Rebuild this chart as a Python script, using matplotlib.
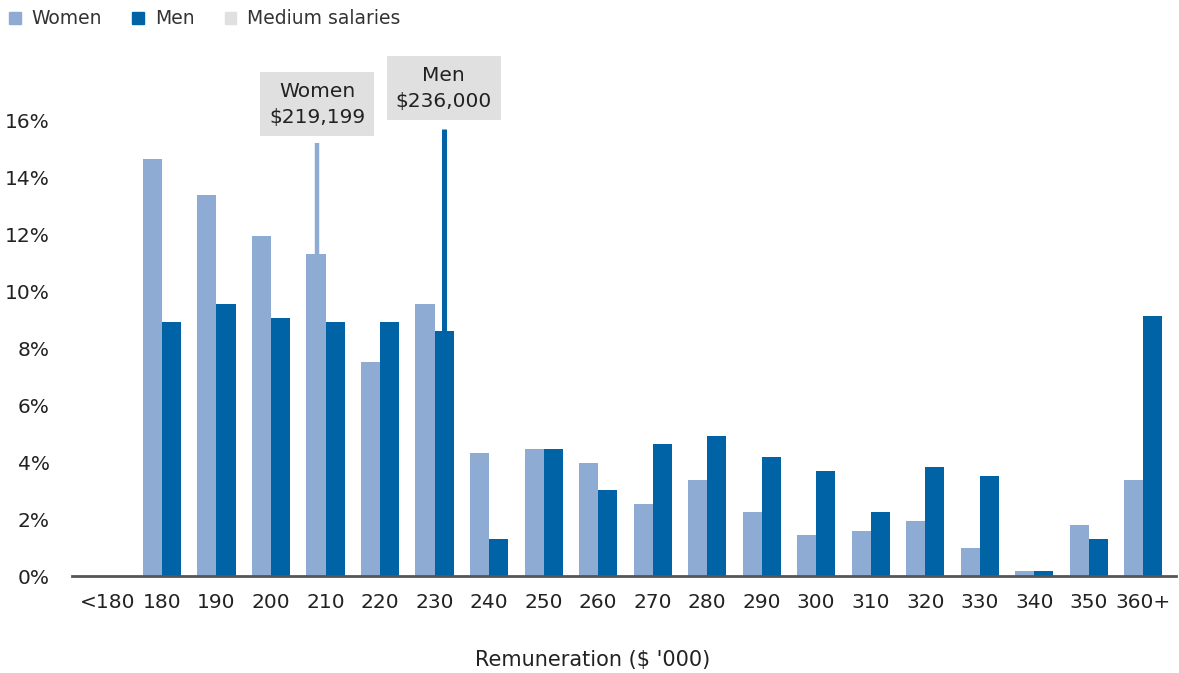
import matplotlib.pyplot as plt
from matplotlib.patches import Patch
import numpy as np

plt.rcParams['font.family'] = ['DejaVu Sans']

# salary bands ($'000) and share of executives in each band (%)
bands = ['<180', '180', '190', '200', '210', '220', '230', '240', '250', '260',
         '270', '280', '290', '300', '310', '320', '330', '340', '350', '360+']
women = [0, 14.63, 13.37, 11.93, 11.30, 7.51, 9.54, 4.32, 4.46, 3.96,
         2.53, 3.37, 2.25, 1.44, 1.58, 1.93, 0.98, 0.18, 1.79, 3.37]
men = [0, 8.91, 9.54, 9.05, 8.91, 8.91, 8.60, 1.30, 4.46, 3.02,
       4.63, 4.91, 4.18, 3.68, 2.25, 3.82, 3.51, 0.18, 1.30, 9.12]

# median salary markers: label, band position, line height
median_labels = ['Women\n$219,199', 'Men\n$236,000']
median_pos = [3.85, 6.17]
median_top = [15.19, 15.68]
median_box_y = [16.56, 17.12]

c_women = '#8eacd3'
c_men = '#0063a6'
c_median = '#dfe0df'
txt = '#222222'

fig = plt.figure(figsize=(11.79, 6.73), dpi=100)
ax = fig.add_axes([72 / 1179, 97 / 673, 1104 / 1179, 527 / 673])

x = np.arange(len(bands))
w = 0.35
ax.bar(x - w / 2, women, w, color=c_women, zorder=2)
ax.bar(x + w / 2, men, w, color=c_men, zorder=2)

# median lines with labels
for pos, top, by, lab, col, lw in zip(median_pos, median_top, median_box_y,
                                      median_labels, [c_women, c_men], [3.2, 3.6]):
    ax.plot([pos, pos], [0, top], color=col, lw=lw, solid_capstyle='butt', zorder=3)
    ax.text(pos, by, lab, ha='center', va='center', fontsize=14.5, color=txt,
            linespacing=1.5,
            bbox=dict(boxstyle='square,pad=0.45', facecolor=c_median, edgecolor='none'))

ax.set_xlim(-0.65, 19.6)
ax.set_ylim(0, 18.5)
ax.set_xticks(x)
ax.set_xticklabels(bands)
ax.set_yticks(np.arange(0, 17, 2))
ax.set_yticklabels([f'{v}%' for v in range(0, 17, 2)])
ax.tick_params(axis='both', length=0, labelsize=14.5, colors=txt)
ax.tick_params(axis='x', pad=12)
ax.tick_params(axis='y', pad=16)

for s in ['top', 'right', 'left']:
    ax.spines[s].set_visible(False)
ax.spines['bottom'].set_color('#555555')
ax.spines['bottom'].set_linewidth(2)
ax.spines['bottom'].set_zorder(4)

fig.text(593 / 1179, 1 - 660 / 673, "Remuneration ($ '000)", ha='center', va='center',
         fontsize=15, color=txt)

handles = [Patch(color=c_women), Patch(color=c_men), Patch(color=c_median)]
fig.legend(handles, ['Women', 'Men', 'Medium salaries'], loc='upper left',
           bbox_to_anchor=(0.0, 1.0), ncol=3, frameon=False, fontsize=13.5,
           handlelength=0.6, handleheight=0.6, handletextpad=0.6,
           columnspacing=1.6, borderaxespad=0.1, labelcolor='#333333')

plt.savefig('out.png', dpi=100)
